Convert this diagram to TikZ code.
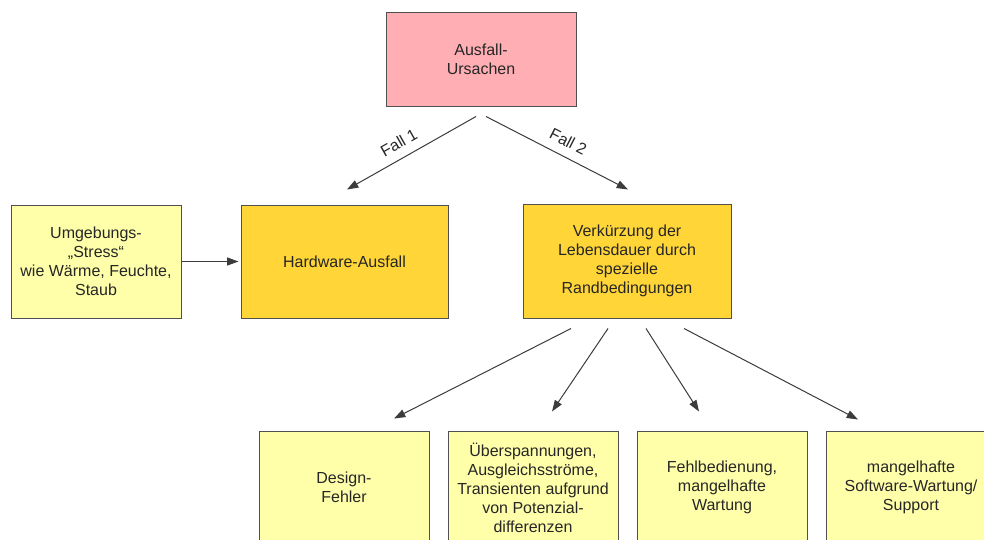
\documentclass[tikz,border=0pt]{standalone}
\usepackage{fontspec}
\setmainfont{Liberation Sans}
\usetikzlibrary{arrows.meta,calc}
\definecolor{pinkbox}{RGB}{255,174,180}
\definecolor{lightyel}{RGB}{255,255,170}
\definecolor{goldbox}{RGB}{255,213,55}
\definecolor{edgegray}{RGB}{80,80,80}
\definecolor{arrowgray}{RGB}{60,60,60}
\begin{document}
\begin{tikzpicture}[x=0.75pt,y=-0.75pt,
  box/.style={draw=edgegray,line width=0.75pt,align=center,inner sep=2pt,
    font=\fontsize{12}{14.25}\selectfont,text=black!85},
  arr/.style={draw=arrowgray,line width=0.75pt,-{Triangle[length=8.5pt,width=6pt]},arrowgray},
  lbl/.style={font=\fontsize{12}{14.25}\selectfont,text=black!85,sloped,above=3.5pt}]
\clip (0,0) rectangle (984,539);
\fill[white] (0,0) rectangle (984,539);
\node[box,fill=pinkbox,minimum width=142.5pt,minimum height=70.5pt] (top) at (481,59) {Ausfall-\\Ursachen};
\node[box,fill=lightyel,minimum width=127.5pt,minimum height=84.75pt] (um) at (96,261.5) {Umgebungs-\\„Stress“\\wie Wärme, Feuchte,\\Staub};
\node[box,fill=goldbox,minimum width=155.25pt,minimum height=84.75pt] (hw) at (344.5,261.5) {Hardware-Ausfall};
\node[box,fill=goldbox,minimum width=156pt,minimum height=85.5pt] (vk) at (627,261) {Verkürzung der\\Lebensdauer durch\\spezielle\\Randbedingungen};
\node[box,fill=lightyel,minimum width=127.5pt,minimum height=84.75pt] (b1) at (344,487.5) {Design-\\Fehler};
\node[box,fill=lightyel,minimum width=127.5pt,minimum height=84.75pt] (b2) at (533,487.5) {Überspannungen,\\Ausgleichsströme,\\Transienten aufgrund\\von Potenzial-\\differenzen};
\node[box,fill=lightyel,minimum width=127.5pt,minimum height=84.75pt] (b3) at (722,487.5) {Fehlbedienung,\\mangelhafte\\Wartung};
\node[box,fill=lightyel,minimum width=127.5pt,minimum height=84.75pt] (b4) at (911,487.5) {mangelhafte\\Software-Wartung/\\Support};
\draw[arr] ($(top.south)+(-5,10)$) -- node[lbl,pos=0.54] {Fall 1} ($(hw.north)+(2.5,-15)$);
\draw[arr] ($(top.south)+(5,10)$) -- node[lbl,pos=0.53] {Fall 2} ($(vk.north)+(1,-14)$);
\draw[arr] (um.east) -- ($(hw.west)+(-2,0)$);
\draw[arr] ($(vk.south)+(-56,10)$) -- ($(b1.north)+(50,-12)$);
\draw[arr] ($(vk.south)+(-19,10)$) -- ($(b2.north)+(19,-19)$);
\draw[arr] ($(vk.south)+(19,10)$) -- ($(b3.north)+(-23,-19)$);
\draw[arr] ($(vk.south)+(57,10)$) -- ($(b4.north)+(-53,-11)$);
\end{tikzpicture}
\end{document}
